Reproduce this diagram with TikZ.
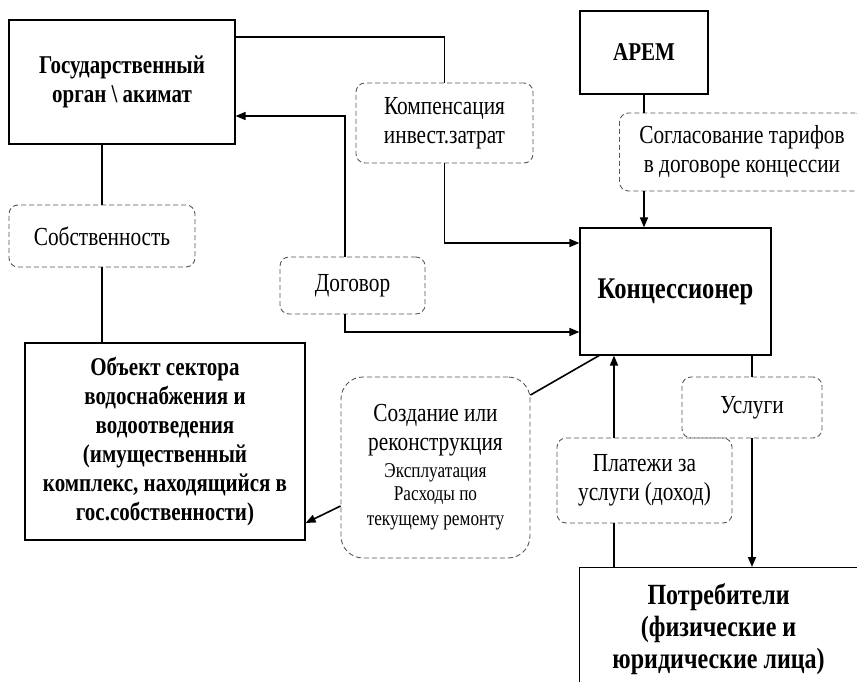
\documentclass[tikz,border=0pt]{standalone}
\usepackage{fontspec}
\setmainfont{Liberation Serif}[FakeStretch=0.82]
\usetikzlibrary{arrows.meta}
\newcommand{\smalltxt}{\fontsize{21}{24}\selectfont}
\tikzset{
  org/.style={draw,line width=1.2pt,align=center,font=\fontsize{25.6}{29}\selectfont\bfseries,inner sep=2pt},
  flow/.style={draw=black!65,dashed,dash pattern=on 5pt off 3pt,line width=0.9pt,rounded corners=9pt,align=center,
    font=\fontsize{26}{29}\selectfont,inner sep=2pt},
  link/.style={line width=1.6pt},
  tip/.style={link,-{Triangle[length=10pt,width=8pt]}}
}
\begin{document}
\begin{tikzpicture}[x=1pt,y=-1pt]
  \useasboundingbox (0,0) rectangle (857,682);
  % boxes
  \node[org,minimum width=226pt,minimum height=124pt] (gov) at (122,82) {Государственный\\орган \textbackslash{} акимат};
  \node[org,minimum width=128pt,minimum height=83pt] (arem) at (644,52.5) {АРЕМ};
  \node[org,minimum width=191pt,minimum height=127pt,font=\fontsize{30}{32}\selectfont\bfseries] (konc) at (675.5,291.5) {Концессионер};
  \node[org,minimum width=280pt,minimum height=197pt] (obj) at (165,441.5)
    {Объект сектора\\водоснабжения и\\водоотведения\\(имущественный\\комплекс, находящийся в\\гос.собственности)};
  \node[org,minimum width=278pt,minimum height=123pt,anchor=north west,font=\fontsize{29.3}{32}\selectfont\bfseries] (potr) at (579,567)
    {Потребители\\(физические и\\юридические лица)};
  % dashed labels
  \node[flow,minimum width=177pt,minimum height=80pt] (komp) at (444.5,123) {Компенсация\\инвест.затрат};
  \node[flow,minimum width=145pt,minimum height=57pt] (dog) at (352.5,285.5) {Договор};
  \node[flow,minimum width=186pt,minimum height=62pt] (sobst) at (102,236) {Собственность};
  \node[flow,minimum width=245pt,minimum height=78pt,anchor=west] (sogl) at (619,152) {Согласование тарифов\\в договоре концессии};
  \node[flow,minimum width=140pt,minimum height=61pt] (usl) at (752,407.5) {Услуги};
  \node[flow,minimum width=175pt,minimum height=85pt] (plat) at (644.5,480.5) {Платежи за\\услуги (доход)};
  \node[flow,minimum width=189pt,minimum height=181pt,rounded corners=22pt] (sozd) at (435.5,467.5)
    {Создание или\\реконструкция\\[-2pt]\smalltxt Эксплуатация\\[-6pt]\smalltxt Расходы по\\[-4pt]\smalltxt текущему ремонту};
  % connectors
  \draw[link] ([yshift=45pt]gov.east) -| (komp.north);
  \draw[tip] (komp.south) |- ([yshift=48.5pt]konc.west);
  \draw[tip] ([xshift=-7.5pt]dog.north) |- ([yshift=-34pt]gov.east);
  \draw[tip] ([xshift=-7.5pt]dog.south) |- ([yshift=-40.5pt]konc.west);
  \draw[link] ([xshift=-20pt]gov.south) -- (sobst.north);
  \draw[link] (sobst.south) -- (sobst.south |- obj.north);
  \draw[tip] ([yshift=-38.5pt]sozd.west) -- ([yshift=-81.5pt]obj.east);
  \draw[link] ([yshift=72.5pt]sozd.east) -- ([xshift=-76.5pt]konc.south);
  \draw[link] (arem.south) -- (arem.south |- sogl.north);
  \draw[tip] (sogl.south -| arem.south) -- (konc.north -| arem.south);
  \draw[link] (usl.north |- konc.south) -- (usl.north);
  \draw[tip] (usl.south) -- (usl.south |- potr.north);
  \draw[link] ([xshift=-30.5pt]plat.south |- potr.north) -- ([xshift=-30.5pt]plat.south);
  \draw[tip] ([xshift=-30.5pt]plat.north) -- ([xshift=-30.5pt]plat.north |- konc.south);
\end{tikzpicture}
\end{document}
